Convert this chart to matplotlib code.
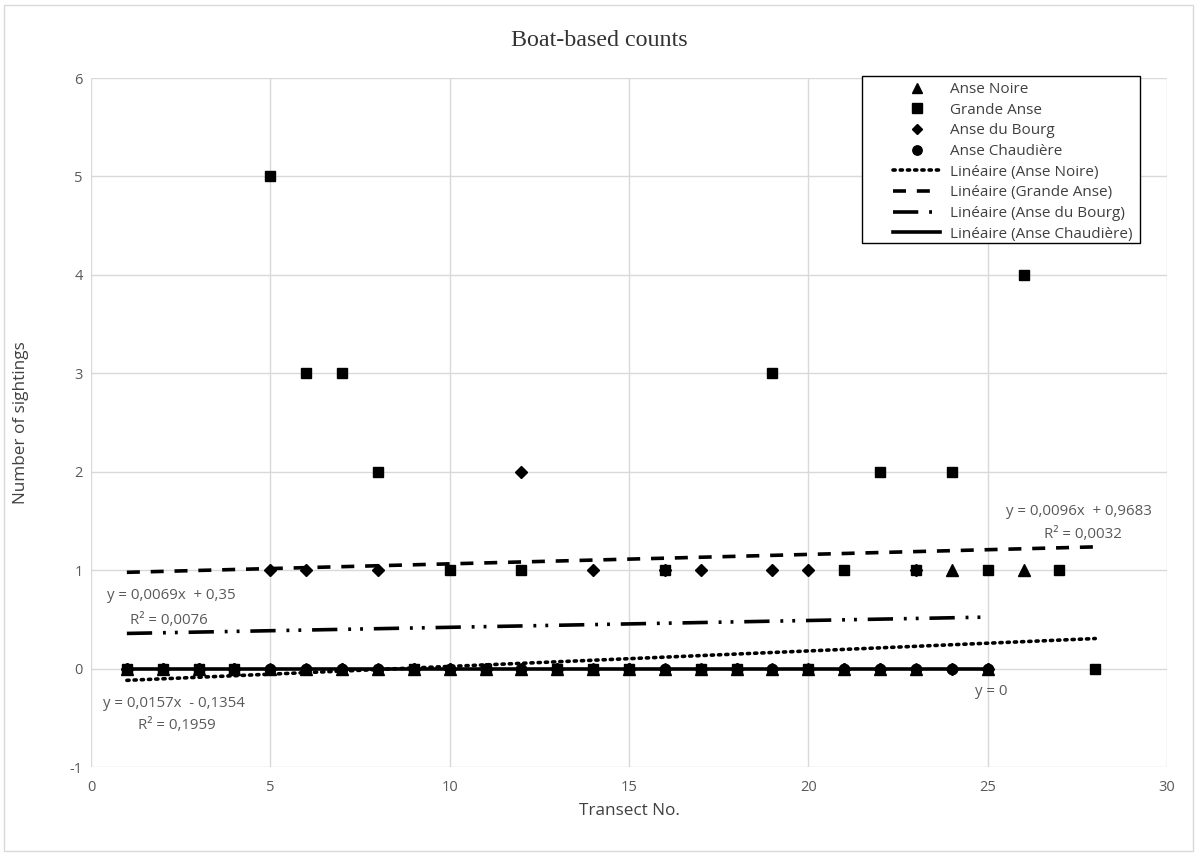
import numpy as np
import matplotlib
matplotlib.use("Agg")
import matplotlib.pyplot as plt
from matplotlib.lines import Line2D
from matplotlib.patches import Rectangle

plt.rcParams["axes.unicode_minus"] = False

# ---------------- data ----------------
title = "Boat-based counts"
x_label = "Transect No."
y_label = "Number of sightings"

series_names = ["Anse Noire", "Grande Anse", "Anse du Bourg", "Anse Chaudière"]

noire_x = list(range(1, 27))
noire_y = [0, 0, 0, 0, 0, 0, 0, 0, 0, 0, 0, 0, 0, 0, 0, 0, 0, 0, 0, 0, 0, 0, 0, 1, 0, 1]

grande_x = list(range(1, 29))
grande_y = [0, 0, 0, 0, 5, 3, 3, 2, 0, 1, 0, 1, 0, 0, 0, 1, 0, 0, 3, 0, 1, 2, 1, 2, 1, 4, 1, 0]

bourg_x = list(range(1, 26))
bourg_y = [0, 0, 0, 0, 1, 1, 0, 1, 0, 0, 0, 2, 0, 1, 0, 1, 1, 0, 1, 1, 0, 0, 1, 0, 0]

chaud_x = list(range(1, 26))
chaud_y = [0] * 25

# trendline x-extents (Anse Noire trend is extended forward to 28)
trend_ranges = [(1, 28), (1, 28), (1, 25), (1, 25)]

x_ticks = [0, 5, 10, 15, 20, 25, 30]
y_ticks = [-1, 0, 1, 2, 3, 4, 5, 6]

# ---------------- figure ----------------
W, H = 1198, 855
fig = plt.figure(figsize=(W / 100, H / 100), dpi=100)
fig.patches.append(Rectangle((4 / W, 4 / H), 1 - 9 / W, 1 - 9 / H, transform=fig.transFigure,
                             fill=False, edgecolor="#d9d9d9", linewidth=1))

ax = fig.add_axes([91 / W, 1 - 767 / H, (1167 - 91) / W, (767 - 78) / H])
ax.set_xlim(0, 30)
ax.set_ylim(-1, 6)
ax.set_xticks(x_ticks)
ax.set_yticks(y_ticks)
for s in ax.spines.values():
    s.set_visible(False)
ax.grid(True, color="#d9d9d9", linewidth=1)
ax.set_axisbelow(True)
ax.tick_params(length=0, labelsize=10.5, labelcolor="#595959")
ax.tick_params(axis="x", pad=9)
ax.tick_params(axis="y", pad=6)
for lab in ax.get_xticklabels() + ax.get_yticklabels():
    lab.set_fontfamily("Open Sans")

ax.set_xlabel(x_label, fontsize=12.3, color="#404040", family="Open Sans", labelpad=6)
ax.set_ylabel(y_label, fontsize=12.3, color="#404040", family="Open Sans", labelpad=29)
fig.text(0.5, 1 - 40 / H, title, ha="center", va="center", fontsize=17.3,
         family="Liberation Serif", color="#333333")

xs = [noire_x, grande_x, bourg_x, chaud_x]
ys = [noire_y, grande_y, bourg_y, chaud_y]
markers = ["^", "s", "D", "o"]
msizes = [8, 7.5, 6, 7.5]
mzorder = [3, 6, 5, 4]
lstyles = [(0, (0.6, 1.4)), (0, (3.6, 3.0)), (0, (7, 3, 0.8, 2.5, 0.8, 3)), "-"]
lwidths = [2.6, 2.6, 2.6, 2.6]

handles_m = []
handles_l = []
fits = []
for i in range(4):
    x = np.array(xs[i], dtype=float)
    y = np.array(ys[i], dtype=float)
    b, a = np.polyfit(x, y, 1)
    yhat = a + b * x
    ss_tot = np.sum((y - y.mean()) ** 2)
    r2 = 1 - np.sum((y - yhat) ** 2) / ss_tot if ss_tot > 0 else None
    fits.append((b, a, r2))
    x0, x1 = trend_ranges[i]
    tx = np.array([x0, x1], dtype=float)
    ax.plot(tx, a + b * tx, color="black", linestyle=lstyles[i], linewidth=lwidths[i],
            dash_capstyle="round" if i == 0 else "butt", zorder=2)
    ax.plot(x, y, linestyle="none", marker=markers[i], markersize=msizes[i],
            color="black", zorder=mzorder[i])
    handles_m.append(Line2D([], [], linestyle="none", marker=markers[i],
                            markersize=msizes[i] * 0.9, color="black"))
    handles_l.append(Line2D([], [], color="black", linestyle=lstyles[i],
                            linewidth=lwidths[i],
                            dash_capstyle="round" if i == 0 else "butt"))


def fmt(v):
    s = f"{abs(v):.4f}".rstrip("0").rstrip(".")
    return s.replace(".", ",")


def eq_text(b, a):
    if abs(b) < 1e-12 and abs(a) < 1e-12:
        return "y = 0"
    sign = "+" if a >= 0 else "-"
    return f"y = {fmt(b)}x  {sign} {fmt(a)}"


eq_color = "#595959"
eq_kw = dict(ha="center", va="center", fontsize=10.8, color=eq_color, family="Open Sans")
# Grande Anse
b, a, r2 = fits[1]
ax.text(27.54, 1.60, eq_text(b, a), **eq_kw)
ax.text(27.66, 1.367, f"R² = {fmt(r2)}", **eq_kw)
# Anse du Bourg
b, a, r2 = fits[2]
ax.text(2.23, 0.74, eq_text(b, a), **eq_kw)
ax.text(2.17, 0.49, f"R² = {fmt(r2)}", **eq_kw)
# Anse Noire
b, a, r2 = fits[0]
ax.text(2.31, -0.35, eq_text(b, a), **eq_kw)
ax.text(2.40, -0.58, f"R² = {fmt(r2)}", **eq_kw)
# Anse Chaudière
b, a, r2 = fits[3]
ax.text(25.09, -0.23, eq_text(b, a), **eq_kw)

# legend frame drawn separately for exact placement
frame = Rectangle((0.7165, 0.7605), 0.9749 - 0.7165, 1.0029 - 0.7605, transform=ax.transAxes,
                  facecolor="white", edgecolor="black", linewidth=1, clip_on=False, zorder=9)
ax.add_patch(frame)

labels = series_names + [f"Linéaire ({n})" for n in series_names]
leg = ax.legend(handles_m + handles_l, labels, loc="upper left",
                bbox_to_anchor=(0.7454, 0.994), frameon=False, handlelength=3.07,
                labelspacing=0.37, borderpad=0.0, borderaxespad=0.0, handletextpad=0.65,
                prop={"family": "Open Sans", "size": 11})
for t in leg.get_texts():
    t.set_color("#404040")
leg.set_zorder(10)

fig.savefig("out.png", dpi=100)
